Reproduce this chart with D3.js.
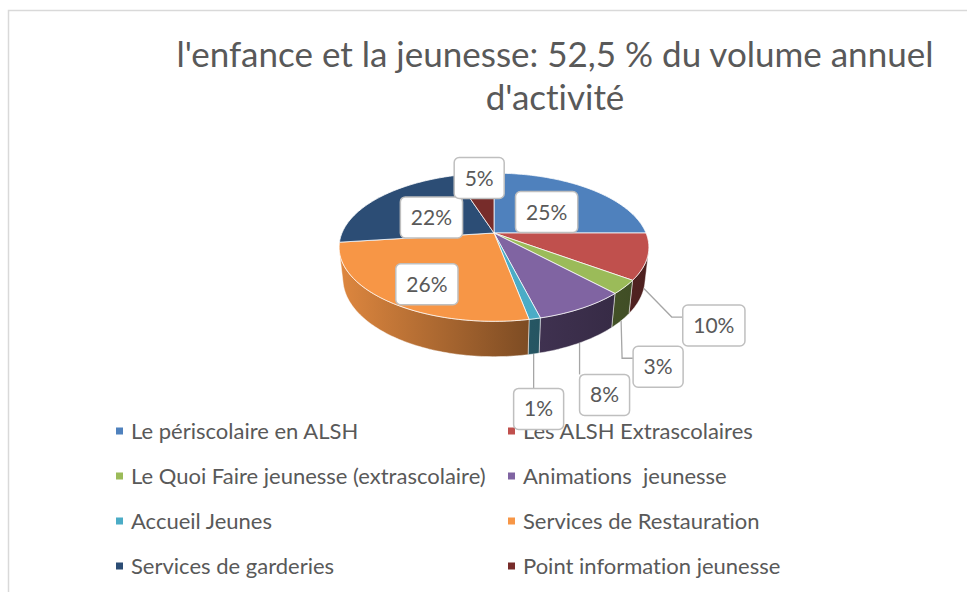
<!DOCTYPE html>
<html>
<head>
<meta charset="utf-8">
<script src="https://cdn.jsdelivr.net/npm/d3@7"></script>
<style>
  body { margin: 0; background: #fff; }
  text { font-family: Lato, "Open Sans", sans-serif; fill: #595959; white-space: pre; font-variant-ligatures: none; }
</style>
</head>
<body>
<svg id="svg" width="967" height="592"></svg>
<script>
// data
var categories = ["Le périscolaire en ALSH", "Les ALSH Extrascolaires",
  "Le Quoi Faire jeunesse (extrascolaire)", "Animations  jeunesse",
  "Accueil Jeunes", "Services de Restauration",
  "Services de garderies", "Point information jeunesse"];
var shares = [25, 10, 3, 8, 1, 26, 22, 5];
var titleLines = ["l'enfance et la jeunesse: 52,5 % du volume annuel", "d'activité"];

var colors = ["#4f81bd", "#c0504d", "#9bbb59", "#8064a2", "#4bacc6", "#f79646", "#2c4d75", "#772c2a"];

// label placement: inside (anchor on top face) or outside (anchor on bottom rim) + nudge
var labelMode = ["in", "out", "out", "out", "out", "in", "in", "in"];
var labelNudge = [[-7, 7], [70, 37], [37, 46], [25, 52], [5, 55], [-8, 13], [10, 6], [-2, -17]];

var svg = d3.select("#svg");

svg.append("path")
  .attr("d", "M8.5,592 L8.5,10.5 L967,10.5")
  .attr("fill", "none")
  .attr("stroke", "#d9d9d9")
  .attr("stroke-width", 1.5);

svg.selectAll("text.title").data(titleLines).enter()
  .append("text")
  .attr("class", "title")
  .attr("x", 555)
  .attr("y", function(d, i) { return 67 + i * 43; })
  .attr("text-anchor", "middle")
  .style("font-size", "35px")
  .text(function(d) { return d; });

// 3d projection of the pie
var cx = 494, cy = 233, S = 152, phi = 28 * Math.PI / 180, D = 4.6, depth = 0.235;
function proj(a, r, y) {
  var x = r * Math.sin(a), z = -r * Math.cos(a);
  var yc = y * Math.cos(phi) - z * Math.sin(phi);
  var d = y * Math.sin(phi) + z * Math.cos(phi);
  var k = D / (D - d);
  return [cx + S * x * k, cy - S * yc * k];
}
function arcPts(a0, a1, r, y) {
  var n = Math.max(2, Math.ceil((a1 - a0) / 0.02)), pts = [];
  for (var i = 0; i <= n; i++) pts.push(proj(a0 + (a1 - a0) * i / n, r, y));
  return pts;
}

var arcs = d3.pie().sort(null).value(function(d) { return d; })(shares);
var visMin = Math.acos(-1 / (D * Math.cos(phi))), visMax = 2 * Math.PI - visMin;

function shade(c, f) {
  var rgb = d3.rgb(c);
  return d3.rgb(rgb.r * f, rgb.g * f, rgb.b * f);
}

var defs = svg.append("defs");
arcs.forEach(function(a, i) {
  var g = defs.append("linearGradient")
    .attr("id", "side" + i)
    .attr("gradientUnits", "userSpaceOnUse")
    .attr("x1", cx - S * 1.02).attr("x2", cx + S * 1.02)
    .attr("y1", 0).attr("y2", 0);
  [[0, 0.9], [0.62, 0.5], [1, 0.4]].forEach(function(s) {
    g.append("stop").attr("offset", s[0]).attr("stop-color", shade(colors[i], s[1]));
  });
});

var line = d3.line();

// side walls
arcs.forEach(function(a, i) {
  var a0 = Math.max(a.startAngle, visMin), a1 = Math.min(a.endAngle, visMax);
  if (a0 >= a1) return;
  var pts = arcPts(a0, a1, 1, 0).concat(arcPts(a0, a1, 1, -depth).reverse());
  svg.append("path")
    .attr("d", line(pts) + "Z")
    .attr("fill", "url(#side" + i + ")")
    .attr("stroke", "rgba(255,255,255,0.6)")
    .attr("stroke-width", 0.8);
});

// top faces
arcs.forEach(function(a, i) {
  var pts = [proj(0, 0, 0)].concat(arcPts(a.startAngle, a.endAngle, 1, 0));
  svg.append("path")
    .attr("d", line(pts) + "Z")
    .attr("fill", colors[i])
    .attr("stroke", "rgba(255,255,255,0.75)")
    .attr("stroke-width", 1);
});

// legend
var legend = svg.selectAll("g.legend").data(categories).enter()
  .append("g")
  .attr("class", "legend")
  .attr("transform", function(d, i) {
    return "translate(" + (i % 2 ? 508 : 116) + "," + (431 + Math.floor(i / 2) * 45) + ")";
  });
legend.append("rect")
  .attr("x", 0).attr("y", -3.5)
  .attr("width", 7).attr("height", 7)
  .attr("fill", function(d, i) { return colors[i]; });
legend.append("text")
  .attr("x", 15).attr("y", 7.5)
  .style("font-size", "22px")
  .text(function(d) { return d; });

// data labels
arcs.forEach(function(a, i) {
  var mid = (a.startAngle + a.endAngle) / 2;
  var anchor = labelMode[i] === "in" ? proj(mid, 0.6, 0) : proj(mid, 1, -depth);
  var lx = anchor[0] + labelNudge[i][0], ly = anchor[1] + labelNudge[i][1];
  var g = svg.append("g");
  var box = g.append("rect");
  var t = g.append("text")
    .attr("x", lx).attr("y", ly + 7.5)
    .attr("text-anchor", "middle")
    .style("font-size", "21px")
    .text(shares[i] + "%");
  var w = t.node().getComputedTextLength() + 21, h = 41;
  var bx = lx - w / 2, by = ly - h / 2;
  box.attr("x", bx).attr("y", by).attr("width", w).attr("height", h)
    .attr("rx", 5)
    .attr("fill", "#fff")
    .attr("stroke", "#bfbfbf")
    .attr("stroke-width", 1.5);
  if (labelMode[i] === "out") {
    var pts;
    if (anchor[0] >= bx && anchor[0] <= bx + w) {
      pts = [anchor, [anchor[0], by]];
    } else {
      var ya = by + 12;
      pts = [anchor, [bx - Math.min(11, bx - anchor[0]), ya], [bx, ya]];
    }
    svg.insert("path", "g.legend")
      .attr("d", line(pts))
      .attr("fill", "none")
      .attr("stroke", "#a6a6a6")
      .attr("stroke-width", 1.3);
  }
});
</script>
</body>
</html>
